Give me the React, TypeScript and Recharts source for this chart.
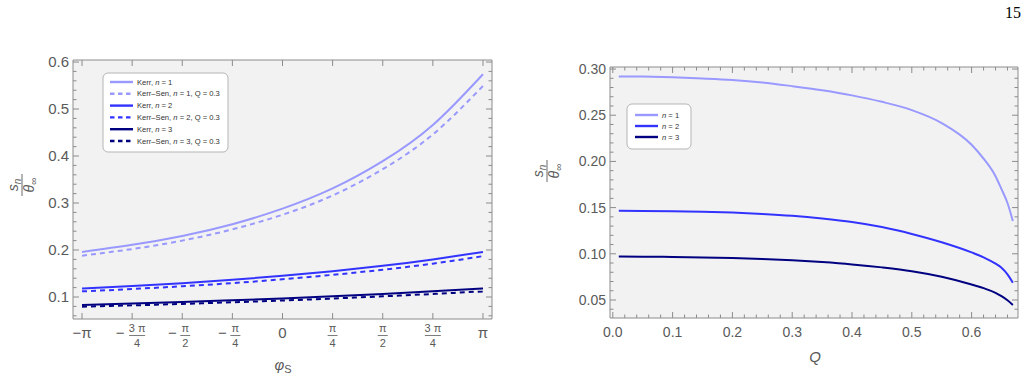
import { LineChart, Line, XAxis, YAxis, CartesianGrid, ReferenceArea } from 'recharts';

// ---- left panel: s_n / theta_inf against phi_S ----
const PHI_STEPS = [-4, -3, -2, -1, 0, 1, 2, 3, 4];
const PHI = PHI_STEPS.map((k) => (k * Math.PI) / 4);
const KERR_N1 = [0.196, 0.211, 0.23, 0.255, 0.288, 0.331, 0.389, 0.466, 0.574];
const SEN_N1 = [0.188, 0.202, 0.22, 0.244, 0.275, 0.316, 0.372, 0.446, 0.549];
const KERR_N2 = [0.118, 0.1233, 0.1294, 0.1366, 0.145, 0.155, 0.1664, 0.18, 0.196];
const SEN_N2 = [0.112, 0.117, 0.1228, 0.1296, 0.1377, 0.1472, 0.158, 0.171, 0.187];
const KERR_N3 = [0.083, 0.086, 0.0893, 0.093, 0.097, 0.1015, 0.1065, 0.112, 0.118];
const SEN_N3 = [0.0795, 0.0822, 0.0853, 0.0888, 0.0925, 0.0967, 0.1014, 0.1065, 0.112];

// ---- right panel: s_n / theta_inf against Q ----
const Q = [0.01, 0.05, 0.1, 0.15, 0.2, 0.25, 0.3, 0.35, 0.4, 0.45, 0.5, 0.55, 0.6, 0.62, 0.64, 0.65, 0.66, 0.669];
const Q_N1 = [0.292, 0.2918, 0.291, 0.2898, 0.2882, 0.2855, 0.2815, 0.277, 0.2715, 0.2645, 0.2555, 0.2415, 0.218, 0.203, 0.184, 0.17, 0.155, 0.1355];
const Q_N2 = [0.1465, 0.1464, 0.146, 0.1455, 0.1446, 0.1432, 0.1412, 0.1383, 0.1345, 0.129, 0.1215, 0.1125, 0.1015, 0.0962, 0.0893, 0.0848, 0.0777, 0.0687];
const Q_N3 = [0.097, 0.0969, 0.0966, 0.0961, 0.0954, 0.0944, 0.093, 0.091, 0.0885, 0.0853, 0.0812, 0.0752, 0.0668, 0.0628, 0.0578, 0.0542, 0.0497, 0.0446];

const C1 = '#9999ff';
const C2 = '#3333ff';
const C3 = '#000080';
const FRAME = '#8c8c8c';
const LABEL = '#5a5a5a';
const FONT = '"Liberation Sans", Arial, sans-serif';

const leftData = PHI.map((phi, i) => ({
  phi,
  kerr1: KERR_N1[i],
  sen1: SEN_N1[i],
  kerr2: KERR_N2[i],
  sen2: SEN_N2[i],
  kerr3: KERR_N3[i],
  sen3: SEN_N3[i],
}));

const rightData = Q.map((q, i) => ({ q, n1: Q_N1[i], n2: Q_N2[i], n3: Q_N3[i] }));

// plot boxes in each chart's own svg coordinates
const LBOX = { left: 73, right: 492, top: 60, bottom: 319 };
const RBOX = { left: 90, right: 498, top: 67, bottom: 318 };

const range = (from: number, to: number, step: number) => {
  const out: number[] = [];
  for (let v = from; v <= to + 1e-9; v += step) out.push(Math.round(v * 1000) / 1000);
  return out;
};
const onGrid = (v: number, step: number) => Math.abs(v / step - Math.round(v / step)) < 1e-6;

const leftYTicks = range(0.06, 0.6, 0.02);
const rightYTicks = range(0.04, 0.3, 0.01);
const rightXTicks = range(0, 0.66, 0.02);

type Box = typeof LBOX;

// ticks point inwards on both sides of the frame, like a framed plot
const makeYTick = (box: Box, step: number, digits: number, size: number) => (props: any) => {
  const { y, payload } = props;
  const major = onGrid(payload.value, step);
  const len = major ? 6 : 3.5;
  return (
    <g>
      <line x1={box.left} x2={box.left + len} y1={y} y2={y} stroke={FRAME} />
      <line x1={box.right - len} x2={box.right} y1={y} y2={y} stroke={FRAME} />
      {major && (
        <text x={box.left - 4} y={y} dy="0.35em" textAnchor="end" fontSize={size} fill={LABEL} fontFamily={FONT}>
          {payload.value.toFixed(digits)}
        </text>
      )}
    </g>
  );
};

const makeQTick = (box: Box) => (props: any) => {
  const { x, payload } = props;
  const major = onGrid(payload.value, 0.1);
  const len = major ? 6 : 3.5;
  return (
    <g>
      <line x1={x} x2={x} y1={box.bottom} y2={box.bottom - len} stroke={FRAME} />
      <line x1={x} x2={x} y1={box.top} y2={box.top + len} stroke={FRAME} />
      {major && (
        <text x={x} y={337} textAnchor="middle" fontSize={14} fill={LABEL} fontFamily={FONT}>
          {payload.value.toFixed(1)}
        </text>
      )}
    </g>
  );
};

const PhiTick = (props: any) => {
  const { x, payload } = props;
  const k = Math.round(payload.value / (Math.PI / 4));
  const box = LBOX;
  let label;
  if (Math.abs(k) === 4 || k === 0) {
    label = (
      <text x={x} y={338} textAnchor="middle" fontSize={15} fill={LABEL} fontFamily={FONT}>
        {k === 0 ? '0' : k < 0 ? '−π' : 'π'}
      </text>
    );
  } else {
    const num = Math.abs(k) === 3 ? '3 π' : 'π';
    const den = Math.abs(k) === 2 ? '2' : '4';
    const fx = k < 0 ? x + (Math.abs(k) === 3 ? 5 : 3) : x;
    label = (
      <g fontFamily={FONT} fill={LABEL}>
        {k < 0 && (
          <text x={fx - (Math.abs(k) === 3 ? 17 : 13)} y={338} textAnchor="middle" fontSize={15}>
            −
          </text>
        )}
        <text x={fx} y={332} textAnchor="middle" fontSize={11}>
          {num}
        </text>
        <line x1={fx - (Math.abs(k) === 3 ? 8 : 5)} x2={fx + (Math.abs(k) === 3 ? 8 : 5)} y1={335.5} y2={335.5} stroke={LABEL} strokeWidth={0.8} />
        <text x={fx} y={347} textAnchor="middle" fontSize={11}>
          {den}
        </text>
      </g>
    );
  }
  return (
    <g>
      <line x1={x} x2={x} y1={box.bottom} y2={box.bottom - 6} stroke={FRAME} />
      <line x1={x} x2={x} y1={box.top} y2={box.top + 6} stroke={FRAME} />
      {label}
    </g>
  );
};

const LeftYTick = makeYTick(LBOX, 0.1, 1, 15);
const RightYTick = makeYTick(RBOX, 0.05, 2, 14);
const RightXTick = makeQTick(RBOX);

const L_XDOM: [number, number] = [-3.283, 3.283];
const L_YDOM: [number, number] = [0.0532, 0.6043];
const R_XDOM: [number, number] = [-0.0047, 0.6776];
const R_YDOM: [number, number] = [0.0305, 0.3022];

function SnLabel({ x, y }: { x: number; y: number }) {
  return (
    <g transform={`translate(${x},${y}) rotate(-90)`} fill={LABEL} fontFamily={FONT}>
      <text x={0} y={-4} textAnchor="middle" fontSize={14} fontStyle="italic">
        s<tspan fontSize={10} dy={3}>n</tspan>
      </text>
      <line x1={-11} x2={11} y1={0} y2={0} stroke={LABEL} strokeWidth={0.9} />
      <text x={0} y={12} textAnchor="middle" fontSize={14} fontStyle="italic">
        θ<tspan fontSize={10} dy={3} fontStyle="normal">∞</tspan>
      </text>
    </g>
  );
}

interface LegendRow {
  color: string;
  dashed: boolean;
  parts: [string, string, string];
}

const LEFT_LEGEND: LegendRow[] = [
  { color: C1, dashed: false, parts: ['Kerr,  ', 'n', ' = 1'] },
  { color: C1, dashed: true, parts: ['Kerr–Sen, ', 'n', ' = 1, Q = 0.3'] },
  { color: C2, dashed: false, parts: ['Kerr,  ', 'n', ' = 2'] },
  { color: C2, dashed: true, parts: ['Kerr–Sen, ', 'n', ' = 2, Q = 0.3'] },
  { color: C3, dashed: false, parts: ['Kerr,  ', 'n', ' = 3'] },
  { color: C3, dashed: true, parts: ['Kerr–Sen, ', 'n', ' = 3, Q = 0.3'] },
];

const RIGHT_LEGEND: LegendRow[] = [
  { color: C1, dashed: false, parts: ['', 'n', ' = 1'] },
  { color: C2, dashed: false, parts: ['', 'n', ' = 2'] },
  { color: C3, dashed: false, parts: ['', 'n', ' = 3'] },
];

function LegendBox({ x, y, w, h, rows, rowY, rowStep, lineX, lineW }: {
  x: number; y: number; w: number; h: number; rows: LegendRow[];
  rowY: number; rowStep: number; lineX: number; lineW: number;
}) {
  return (
    <g fontFamily={FONT}>
      <rect x={x} y={y} width={w} height={h} rx={5} fill="#fff" stroke="#b5b5b5" />
      {rows.map((r, i) => {
        const cy = rowY + i * rowStep;
        return (
          <g key={i}>
            <line x1={lineX} x2={lineX + lineW} y1={cy} y2={cy} stroke={r.color} strokeWidth={2.4} strokeDasharray={r.dashed ? '4.5 3.5' : undefined} />
            <text x={lineX + lineW + 4} y={cy} dy="0.35em" fontSize={7.6} fill="#333">
              {r.parts[0]}
              <tspan fontStyle="italic">{r.parts[1]}</tspan>
              {r.parts[2]}
            </text>
          </g>
        );
      })}
    </g>
  );
}

export default function App() {
  return (
    <div style={{ position: 'absolute', left: 0, top: 0, width: 1028, height: 378, background: '#fff' }}>
      <div style={{ position: 'absolute', left: 0, top: 0 }}>
        <LineChart width={520} height={378} data={leftData} margin={{ top: 60, right: 28, bottom: 9, left: 13 }}>
          <CartesianGrid horizontal={false} vertical={false} fill="#f2f2f2" />
          <XAxis type="number" dataKey="phi" domain={L_XDOM} ticks={PHI} interval={0} allowDataOverflow tick={PhiTick} tickLine={false} axisLine={false} height={50} />
          <YAxis type="number" domain={L_YDOM} ticks={leftYTicks} interval={0} allowDataOverflow tick={LeftYTick} tickLine={false} axisLine={false} width={60} />
          <ReferenceArea x1={L_XDOM[0]} x2={L_XDOM[1]} y1={L_YDOM[0]} y2={L_YDOM[1]} fill="none" stroke={FRAME} strokeWidth={1} />
          <Line type="natural" dataKey="kerr1" stroke={C1} strokeWidth={2} dot={false} isAnimationActive={false} />
          <Line type="natural" dataKey="sen1" stroke={C1} strokeWidth={2} strokeDasharray="5 4" dot={false} isAnimationActive={false} />
          <Line type="natural" dataKey="kerr2" stroke={C2} strokeWidth={2} dot={false} isAnimationActive={false} />
          <Line type="natural" dataKey="sen2" stroke={C2} strokeWidth={2} strokeDasharray="5 4" dot={false} isAnimationActive={false} />
          <Line type="natural" dataKey="kerr3" stroke={C3} strokeWidth={2} dot={false} isAnimationActive={false} />
          <Line type="natural" dataKey="sen3" stroke={C3} strokeWidth={2} strokeDasharray="5 4" dot={false} isAnimationActive={false} />
        </LineChart>
      </div>
      <div style={{ position: 'absolute', left: 520, top: 0 }}>
        <LineChart width={508} height={378} data={rightData} margin={{ top: 67, right: 10, bottom: 20, left: 30 }}>
          <CartesianGrid horizontal={false} vertical={false} fill="#f2f2f2" />
          <XAxis type="number" dataKey="q" domain={R_XDOM} ticks={rightXTicks} interval={0} allowDataOverflow tick={RightXTick} tickLine={false} axisLine={false} height={40} />
          <YAxis type="number" domain={R_YDOM} ticks={rightYTicks} interval={0} allowDataOverflow tick={RightYTick} tickLine={false} axisLine={false} width={60} />
          <ReferenceArea x1={R_XDOM[0]} x2={R_XDOM[1]} y1={R_YDOM[0]} y2={R_YDOM[1]} fill="none" stroke={FRAME} strokeWidth={1} />
          <Line type="monotone" dataKey="n1" stroke={C1} strokeWidth={2} dot={false} isAnimationActive={false} />
          <Line type="monotone" dataKey="n2" stroke={C2} strokeWidth={2} dot={false} isAnimationActive={false} />
          <Line type="monotone" dataKey="n3" stroke={C3} strokeWidth={2} dot={false} isAnimationActive={false} />
        </LineChart>
      </div>
      <svg width={1028} height={378} style={{ position: 'absolute', left: 0, top: 0, pointerEvents: 'none' }}>
        <text x={1021} y={18} textAnchor="end" fontSize={16} fontFamily='"Liberation Serif", serif' fill="#000">
          15
        </text>
        <SnLabel x={22} y={185} />
        <SnLabel x={547} y={171} />
        <text x={283} y={370} textAnchor="middle" fontSize={15} fill={LABEL} fontFamily={FONT} fontStyle="italic">
          φ<tspan fontSize={11} dy={3} fontStyle="normal">S</tspan>
        </text>
        <text x={815} y={362} textAnchor="middle" fontSize={15} fill={LABEL} fontFamily={FONT} fontStyle="italic">
          Q
        </text>
        <LegendBox x={103} y={73} w={125} h={79} rows={LEFT_LEGEND} rowY={82} rowStep={11.8} lineX={110} lineW={23} />
        <LegendBox x={627} y={104} w={64} h={45} rows={RIGHT_LEGEND} rowY={115} rowStep={11} lineX={635} lineW={23} />
      </svg>
    </div>
  );
}
